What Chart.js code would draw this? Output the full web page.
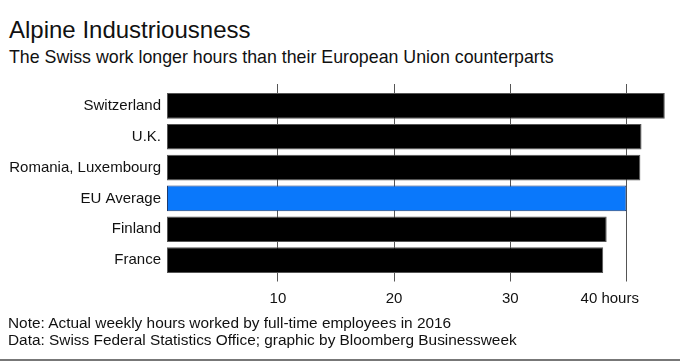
<!DOCTYPE html>
<html>
<head>
<meta charset="utf-8">
<script src="https://cdn.jsdelivr.net/npm/chart.js@4.4.1/dist/chart.umd.min.js"></script>
<style>
  html, body { margin: 0; padding: 0; background: #ffffff; }
  body { width: 680px; height: 361px; position: relative; overflow: hidden;
         font-family: "Liberation Sans", Arial, Helvetica, sans-serif; color: #111; }
  .t { position: absolute; left: 9px; white-space: nowrap; line-height: 1; }
  #title { top: 18px; font-size: 24px; }
  #subtitle { top: 49px; font-size: 17.8px; }
  #note { top: 315px; font-size: 15.4px; left: 8px; }
  #source { top: 331.5px; font-size: 15.4px; left: 8px; }
  #rule { position: absolute; left: 0; top: 359px; width: 680px; height: 2px; background: #777; }
  canvas { position: absolute; left: 0; top: 0; }
</style>
</head>
<body>
<div class="t" id="title">Alpine Industriousness</div>
<div class="t" id="subtitle">The Swiss work longer hours than their European Union counterparts</div>
<canvas id="c" width="680" height="361"></canvas>
<div class="t" id="note">Note: Actual weekly hours worked by full-time employees in 2016</div>
<div class="t" id="source">Data: Swiss Federal Statistics Office; graphic by Bloomberg Businessweek</div>
<div id="rule"></div>
<script>
// ---- data ----
const categories = ["Switzerland", "U.K.", "Romania, Luxembourg", "EU Average", "Finland", "France"];
const hours = [43.3, 41.3, 41.2, 40.0, 38.3, 38.0];
const tickValues = [10, 20, 30, 40];
const tickLabels = ["10", "20", "30", "40 hours"];
const highlight = "EU Average";

// ---- styling ----
const xMin = 0.45, xMax = 44;
const fontFamily = '"Liberation Sans", Arial, Helvetica, sans-serif';
const fills = categories.map(c => c === highlight ? '#0a78fb' : '#000000');
const borders = categories.map(c => c === highlight ? '#1c3b70' : '#555555');
const gridColor = '#555555';

function setTicks(scale) {
  scale.ticks = tickValues.map(v => ({ value: v }));
}

new Chart(document.getElementById('c'), {
  type: 'bar',
  data: {
    labels: categories,
    datasets: [{
      data: hours,
      base: xMin,
      backgroundColor: fills,
      borderColor: borders,
      borderWidth: 1,
      borderSkipped: false,
      categoryPercentage: 1.0,
      barPercentage: 0.83
    }]
  },
  options: {
    indexAxis: 'y',
    responsive: false,
    animation: false,
    devicePixelRatio: 1,
    layout: { padding: { top: 84, bottom: 44, left: 0, right: 7.1 } },
    plugins: { legend: { display: false }, tooltip: { enabled: false }, title: { display: false } },
    scales: {
      x: {
        type: 'linear', position: 'bottom', min: xMin, max: xMax,
        afterBuildTicks: setTicks,
        grid: { color: gridColor, lineWidth: 1, tickLength: 6, drawTicks: true },
        border: { display: false },
        ticks: {
          padding: 5,
          color: '#111',
          font: { family: fontFamily, size: 15, lineHeight: 1.7 },
          maxRotation: 0, autoSkip: false,
          callback: (v, i) => i === tickLabels.length - 1
            ? tickLabels[i] + '\u00a0\u00a0\u00a0\u00a0\u00a0\u00a0\u00a0\u00a0'
            : tickLabels[i]
        }
      },
      x2: {
        type: 'linear', position: 'top', min: xMin, max: xMax,
        afterBuildTicks: setTicks,
        grid: { color: gridColor, lineWidth: 1, tickLength: 6.5, drawOnChartArea: false },
        border: { display: false },
        ticks: { display: false }
      },
      y: {
        type: 'category',
        afterFit: (scale) => { scale.width = 167; },
        grid: { display: false, drawTicks: false },
        border: { display: false },
        ticks: {
          padding: 6,
          color: '#111',
          font: { family: fontFamily, size: 15 },
          autoSkip: false
        }
      }
    }
  }
});
</script>
</body>
</html>
